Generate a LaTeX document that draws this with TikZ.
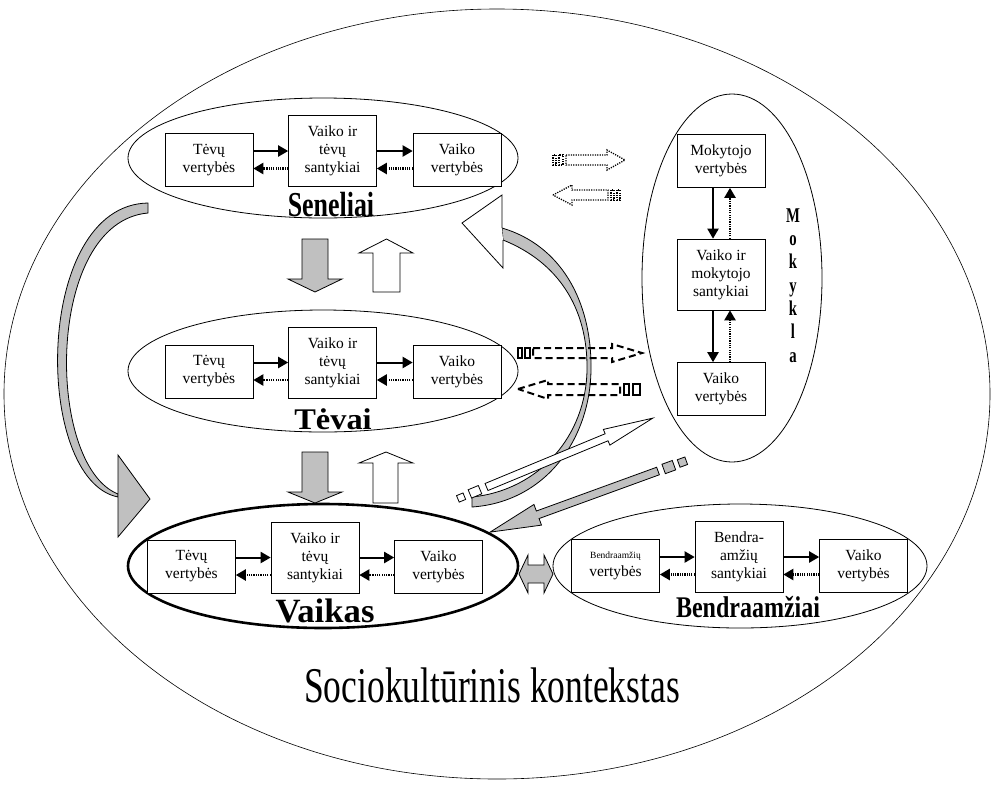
\documentclass[tikz,border=0pt]{standalone}
\usepackage{fontspec}
\setmainfont{Liberation Serif}
\usetikzlibrary{arrows.meta,shapes.geometric}
\definecolor{silver}{HTML}{C0C0C0}
\newcommand{\lrpair}[3]{%
  \path ([yshift=9pt]#3.center) coordinate (qa) ([yshift=-8.5pt]#3.center) coordinate (qb);
  \draw[solidarr] (qa -| #1.east) -- (qa -| #2.west);
  \draw[dotarr] (qb -| #2.west) -- (qb -| #1.east);
}
\newcommand{\udpair}[2]{%
  \path ([xshift=-8pt]#1.center) coordinate (qa) ([xshift=9pt]#1.center) coordinate (qb);
  \draw[solidarr] (qa |- #1.south) -- (qa |- #2.north);
  \draw[dotarr] (qb |- #2.north) -- (qb |- #1.south);
}
\begin{document}
\begin{tikzpicture}[x=1pt,y=-1pt,
  box/.style={draw, line width=0.6pt, fill=white, align=center,
    font=\fontsize{15.5}{18}\selectfont, inner sep=1pt, minimum width=88pt},
  sbox/.style={box, minimum height=53pt},
  mbox/.style={box, minimum height=71pt},
  grp/.style={draw, ellipse, line width=0.8pt, inner sep=0pt},
  solidarr/.style={line width=2pt, -{Triangle[length=10pt,width=11pt]}},
  dotarr/.style={line width=2.2pt, dash pattern=on 1.2pt off 1.1pt, -{Triangle[length=10pt,width=11pt]}},
  dotline/.style={line width=1.3pt, dash pattern=on 1.2pt off 1.2pt},
  dashline/.style={line width=2pt, dash pattern=on 7pt off 4pt},
  blk/.style={line width=0.8pt},
  lbl/.style={inner sep=0pt},
  mokl/.style={inner sep=0pt, anchor=base, font=\fontsize{21}{21}\selectfont\bfseries}]
\useasboundingbox (0,0) rectangle (995,785);

% context ellipse
\node[grp, line width=0.6pt, minimum width=986pt, minimum height=770pt] (ctx) at (497,394) {};

% group ellipses
\node[grp, minimum width=390pt, minimum height=120pt] (sen) at (323,158) {};
\node[grp, minimum width=390pt, minimum height=122pt] (tev) at (323,371) {};
\node[grp, line width=2.6pt, minimum width=390pt, minimum height=124pt] (vai) at (323,566) {};
\node[grp, minimum width=374pt, minimum height=124pt] (ben) at (740,566) {};
\node[grp, minimum width=180pt, minimum height=368pt] (mok) at (732,278) {};

% left gray curved arrow
\filldraw[fill=silver, blk] (148,203) .. controls (33,205) and (33,480) .. (118,497) -- (118,494)
  .. controls (45,465) and (45,222) .. (148,213) -- cycle;
\filldraw[fill=silver, blk] (118,455) -- (150,499) -- (118,537) -- cycle;

% right curved arrow
\filldraw[fill=silver, blk] (502,228) .. controls (560,245) and (592,300) .. (591,370)
  .. controls (590,440) and (545,502) .. (472,507) -- (472,497)
  .. controls (540,490) and (586,435) .. (587,370)
  .. controls (588,308) and (558,262) .. (503,240) -- cycle;
\fill[white] (502,228) -- (502,195) -- (462,223) -- (503,268) -- (503,240) -- cycle;
\draw[blk] (502,228) -- (502,195) -- (462,223) -- (503,268) -- (503,240);

% block arrows between groups
\filldraw[fill=silver, blk] (302,239) -- (328,239) -- (328,279) -- (342,279) -- (315,292) -- (288,279) -- (302,279) -- cycle;
\filldraw[fill=white, blk] (373,292) -- (400,292) -- (400,253) -- (413,253) -- (386.5,239) -- (359,253) -- (373,253) -- cycle;
\filldraw[fill=silver, blk] (302,452) -- (328,452) -- (328,492) -- (342,492) -- (315,503) -- (288,492) -- (302,492) -- cycle;
\filldraw[fill=white, blk] (373,503) -- (398,503) -- (398,463) -- (413,463) -- (386,452) -- (359,463) -- (373,463) -- cycle;

% dotted hollow arrows (Seneliai - Mokykla)
\draw[dotline] (566,155) -- (607,155) -- (607,150) -- (625,160) -- (607,170) -- (607,165) -- (566,165) -- cycle;
\draw[dotline] (553,155) rectangle (556,165);
\draw[dotline] (559,155) rectangle (563,165);
\draw[dotline] (553,195) -- (572,185) -- (572,190) -- (608,190) -- (608,200) -- (572,200) -- (572,205) -- cycle;
\draw[dotline] (611,190) rectangle (614,200);
\draw[dotline] (617,190) rectangle (620,200);

% dashed hollow arrows (Tevai - Mokykla)
\draw[dashline] (533,348) -- (612,348) -- (612,344) -- (642,353) -- (612,362) -- (612,358) -- (533,358) -- cycle;
\draw[line width=1.6pt] (518,348) rectangle (522,358);
\draw[line width=1.6pt] (525,348) rectangle (530,358);
\draw[dashline] (518,389) -- (548,380) -- (548,384) -- (620,384) -- (620,395) -- (548,395) -- (548,399) -- cycle;
\draw[line width=1.6pt] (624,384) rectangle (629,395);
\draw[line width=1.6pt] (633,384) rectangle (640,395);

% diagonal white arrow (Vaikas -> Mokykla)
\begin{scope}[shift={(486.5,487)}, rotate=22.5]
  \filldraw[fill=white, blk] (0,-3.8) -- (130,-3.8) -- (130,-8.5) -- (180,0) -- (130,8.5) -- (130,3.8) -- (0,3.8) -- cycle;
  \filldraw[fill=white, blk] (-18,-4.5) rectangle (-7,4.5);
  \filldraw[fill=white, blk] (-31,-3.5) rectangle (-24,3.5);
\end{scope}
% diagonal gray arrow (Mokykla -> Vaikas)
\begin{scope}[shift={(658,471)}, rotate=200]
  \filldraw[fill=silver, blk] (0,-4) -- (128,-4) -- (128,-11) -- (178.7,0) -- (128,11) -- (128,4) -- (0,4) -- cycle;
  \filldraw[fill=silver, blk] (-17,-5) rectangle (-6,5);
  \filldraw[fill=silver, blk] (-30,-4) rectangle (-22,4);
\end{scope}

% double gray arrow Vaikas <-> Bendraamziai
\filldraw[fill=silver, blk] (519,574) -- (528,555) -- (528,565) -- (544,565) -- (544,555) -- (553,574)
  -- (544,593) -- (544,583) -- (528,583) -- (528,593) -- cycle;

% boxes: Seneliai
\node[sbox] (sl) at (209,160) {Tėvų\\vertybės};
\node[mbox] (sm) at (332.5,151) {Vaiko ir\\tėvų\\santykiai};
\node[sbox] (sr) at (457,160) {Vaiko\\vertybės};
% Tevai
\node[sbox] (tl) at (209,371.5) {Tėvų\\vertybės};
\node[mbox] (tm) at (332.5,363) {Vaiko ir\\tėvų\\santykiai};
\node[sbox] (tr) at (457,371.5) {Vaiko\\vertybės};
% Vaikas
\node[sbox] (vl) at (191.5,566.5) {Tėvų\\vertybės};
\node[mbox] (vm) at (315,557.5) {Vaiko ir\\tėvų\\santykiai};
\node[sbox] (vr) at (438.5,566.5) {Vaiko\\vertybės};
% Bendraamziai
\node[sbox] (bl) at (615.5,566) {{\fontsize{9.5}{11}\selectfont Bendraamžių}\\vertybės};
\node[mbox] (bm) at (739,557) {Bendra-\\amžių\\santykiai};
\node[sbox] (br) at (863.5,566) {Vaiko\\vertybės};
% Mokykla
\node[sbox] (mt) at (721,161) {Mokytojo\\vertybės};
\node[mbox] (mm) at (721,274.5) {Vaiko ir\\mokytojo\\santykiai};
\node[sbox] (mb) at (721,389) {Vaiko\\vertybės};

% inner arrows
\lrpair{sl}{sm}{sl}
\lrpair{sm}{sr}{sr}
\lrpair{tl}{tm}{tl}
\lrpair{tm}{tr}{tr}
\lrpair{vl}{vm}{vl}
\lrpair{vm}{vr}{vr}
\lrpair{bl}{bm}{bl}
\lrpair{bm}{br}{br}
\udpair{mt}{mm}
\udpair{mm}{mb}

% group labels
\node[lbl] (lsen) at (331,205) {\scalebox{0.74}[1]{\fontsize{35}{35}\selectfont\bfseries Seneliai}};
\node[lbl] (ltev) at (333,419) {\scalebox{1.08}[1]{\fontsize{30}{30}\selectfont\bfseries Tėvai}};
\node[lbl] (lvai) at (325,611) {\scalebox{1.02}[1]{\fontsize{34}{34}\selectfont\bfseries Vaikas}};
\node[lbl] (lben) at (748,607) {\scalebox{0.8}[1]{\fontsize{30}{30}\selectfont\bfseries Bendraamžiai}};
\foreach \l/\yy [count=\i] in {M/222,o/245.3,k/268.7,y/292,k/315.3,l/338.7,a/362}
  \node[mokl] (mk\i) at (793,\yy) {\scalebox{0.7}[1]{\l}};

% context label
\node[lbl, anchor=base] (lctx) at (492,702) {\scalebox{0.71}[1]{\fontsize{50}{50}\selectfont Sociokultūrinis kontekstas}};
\end{tikzpicture}
\end{document}
